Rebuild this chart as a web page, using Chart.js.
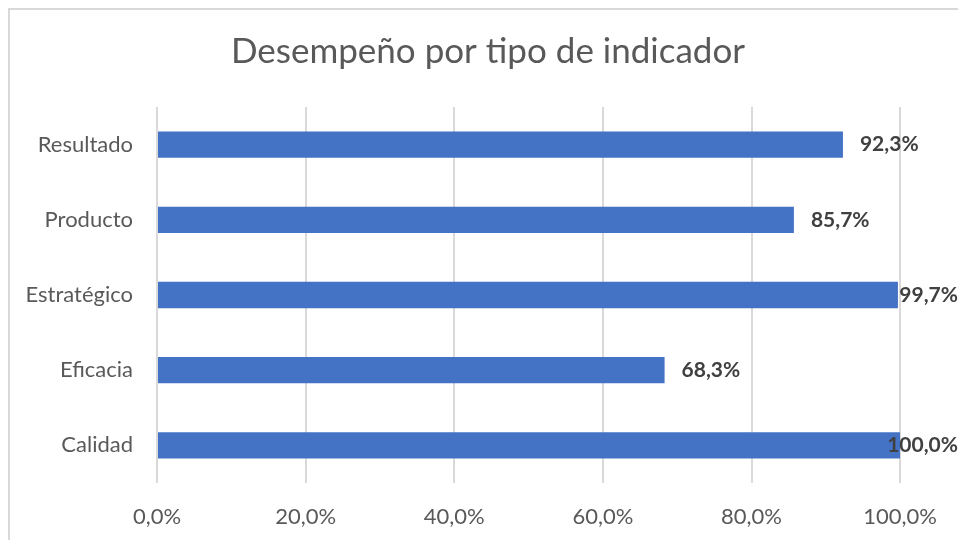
<!DOCTYPE html>
<html>
<head>
<meta charset="utf-8">
<script src="https://cdn.jsdelivr.net/npm/chart.js@4/dist/chart.umd.min.js"></script>
<style>
  body { margin: 0; background: #fff; overflow: hidden; }
  #marco { position: absolute; left: 8px; top: 8px; width: 1000px; height: 600px; border: 2px solid #d9d9d9; }
  #wrap { position: absolute; left: 0; top: 0; width: 958px; height: 540px; }
</style>
</head>
<body>
<div id="marco"></div>
<div id="wrap"><canvas id="myChart" width="958" height="540"></canvas></div>
<script>
var titulo = 'Desempeño por tipo de indicador';
var categorias = ['Resultado', 'Producto', 'Estratégico', 'Eficacia', 'Calidad'];
var desempeno = [92.3, 85.7, 99.7, 68.3, 100.0];
var ticksX = [0, 20, 40, 60, 80, 100];

function formato(v) {
  return v.toFixed(1).replace('.', ',') + '%';
}

// titulo centrado sobre todo el grafico (como en Excel)
var tituloExcel = {
  id: 'tituloExcel',
  afterDraw: function (chart) {
    var ctx = chart.ctx;
    ctx.save();
    ctx.font = '35px Lato';
    ctx.fillStyle = '#595959';
    ctx.textAlign = 'center';
    ctx.textBaseline = 'middle';
    ctx.fillText(titulo, 488, 52);
    ctx.restore();
  }
};

// etiquetas de datos al final de cada barra
var etiquetas = {
  id: 'etiquetas',
  afterDatasetsDraw: function (chart) {
    var ctx = chart.ctx;
    var meta = chart.getDatasetMeta(0);
    ctx.save();
    ctx.font = 'bold 21px Lato';
    ctx.fillStyle = '#404040';
    ctx.textBaseline = 'middle';
    ctx.textAlign = 'left';
    meta.data.forEach(function (bar, i) {
      var txt = formato(desempeno[i]);
      var w = ctx.measureText(txt).width;
      var x = Math.min(bar.x + 17, chart.width - w);
      ctx.fillText(txt, x, bar.y);
    });
    ctx.restore();
  }
};

new Chart(document.getElementById('myChart'), {
  type: 'bar',
  data: {
    labels: categorias,
    datasets: [{
      data: desempeno,
      backgroundColor: '#4472C4',
      categoryPercentage: 1,
      barPercentage: 0.35
    }]
  },
  options: {
    indexAxis: 'y',
    responsive: false,
    animation: false,
    layout: { padding: { left: 0, right: 54, top: 107, bottom: 0 } },
    plugins: {
      legend: { display: false },
      tooltip: { enabled: false },
      title: { display: false }
    },
    scales: {
      x: {
        min: 0,
        max: 100,
        afterBuildTicks: function (scale) {
          scale.ticks = ticksX.map(function (v) { return { value: v }; });
        },
        afterFit: function (scale) { scale.height = 57; },
        grid: { color: '#d9d9d9', lineWidth: 2, drawTicks: false },
        border: { display: false },
        ticks: {
          color: '#595959',
          font: { family: 'Lato', size: 22 },
          padding: 21,
          callback: function (v) { return formato(v); }
        }
      },
      y: {
        afterFit: function (scale) { scale.width = 157; },
        grid: { display: false },
        border: { display: false },
        ticks: {
          color: '#595959',
          font: { family: 'Lato', size: 22 },
          padding: 16
        }
      }
    }
  },
  plugins: [etiquetas, tituloExcel]
});
</script>
</body>
</html>
